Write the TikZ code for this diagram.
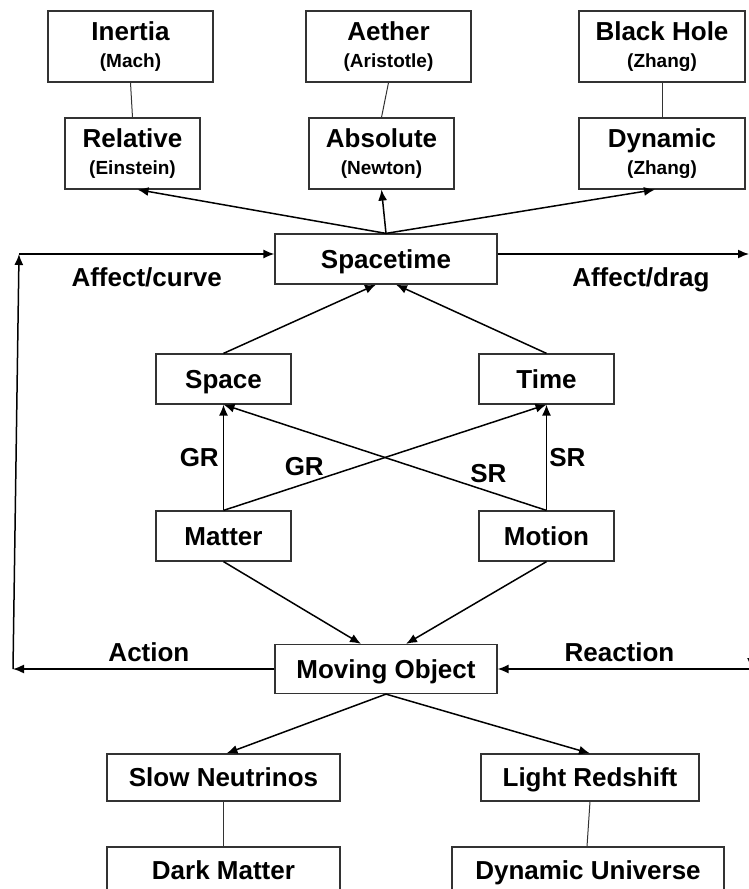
\documentclass[tikz,border=0pt]{standalone}
\usepackage{fontspec}
\setmainfont{Liberation Sans}
\usetikzlibrary{arrows.meta}
\newcommand{\who}[1]{{\fontsize{19}{27}\selectfont(#1)}}

\begin{document}
\begin{tikzpicture}[
  x=1pt, y=-1pt,
  boxbase/.style={rectangle, draw=black!80, line width=1.2pt, inner sep=0pt, align=center, font=\bfseries\fontsize{26}{27}\selectfont},
  block/.style={boxbase, minimum height=50pt, text height=21pt, text depth=2.5pt},
  tallblock/.style={boxbase, minimum height=71pt},
  lowblock/.style={block, minimum height=47pt},
  link/.style={-{Latex[length=11pt,width=9pt]}, line width=1.5pt},
  tie/.style={line width=1pt, draw=black!80},
  lbl/.style={font=\bfseries\fontsize{26}{27}\selectfont, inner sep=4pt},
  node distance=107pt
]
\useasboundingbox (0,0) rectangle (749,889);

\node[tallblock, minimum width=165pt] (inertia) at (130.5,46.5) {Inertia\\\who{Mach}};
\node[tallblock, minimum width=135pt, below of=inertia, xshift=2pt] (relative) {Relative\\\who{Einstein}};
\node[tallblock, minimum width=165pt] (aether) at (388.5,46.5) {Aether\\\who{Aristotle}};
\node[tallblock, minimum width=145pt, below of=aether, xshift=-7pt] (absolute) {Absolute\\\who{Newton}};
\node[tallblock, minimum width=166pt] (blackhole) at (662,46.5) {Black Hole\\\who{Zhang}};
\node[tallblock, minimum width=166pt, below of=blackhole] (dynamic) {Dynamic\\\who{Zhang}};

\node[block, minimum width=222pt] (spacetime) at (386,259) {Spacetime};
\node[block, minimum width=135pt] (space) at (223.5,379) {Space};
\node[block, minimum width=135pt] (time) at (546.5,379) {Time};
\node[block, minimum width=135pt, below of=space, node distance=157pt] (matter) {Matter};
\node[block, minimum width=135pt, below of=time, node distance=157pt] (motion) {Motion};
\node[block, minimum width=222pt, minimum height=49pt] (moving) at (386,669) {Moving Object};

\node[lowblock, minimum width=233pt] (slow) at (223.5,777.5) {Slow Neutrinos};
\node[lowblock, minimum width=218pt] (redshift) at (590,777.5) {Light Redshift};
\node[lowblock, minimum width=233pt, below of=slow, node distance=93pt] (dark) {Dark Matter};
\node[lowblock, minimum width=272pt, below of=redshift, node distance=93pt, xshift=-2pt] (universe) {Dynamic Universe};

\coordinate (actend) at (13,669);
\coordinate (curvestart) at (19,254);
\coordinate (dragend) at (749,254);
\coordinate (dragturn) at (751.5,254);
\coordinate (reactstart) at (751.5,669);

% top pairs
\draw[tie] (inertia.south) -- (relative.north);
\draw[tie] (aether.south) -- (absolute.north);
\draw[tie] (blackhole.south) -- (dynamic.north);
\draw[link] (spacetime.north) -- ([xshift=5pt]relative.south);
\draw[link] (spacetime.north) -- (absolute.south);
\draw[link] (spacetime.north) -- ([xshift=-7pt]dynamic.south);

% space and time
\draw[link] (space.north) -- ([xshift=-10pt]spacetime.south);
\draw[link] (time.north) -- ([xshift=10pt]spacetime.south);
\draw[link] (matter.north) -- node[lbl, left] {GR} (space.south);
\draw[link] (matter.north) -- node[lbl, pos=0.25, above, yshift=3pt] {GR} (time.south);
\draw[link] (motion.north) -- node[lbl, pos=0.18, above, yshift=4pt] {SR} (space.south);
\draw[link] (motion.north) -- node[lbl, right, inner sep=2pt] {SR} (time.south);
\draw[link] (matter.south) -- ([xshift=-25pt]moving.north);
\draw[link] (motion.south) -- ([xshift=20pt]moving.north);

% feedback loops
\draw[link] (moving.west) -- node[lbl, above, pos=0.48, yshift=3pt] {Action} (actend);
\draw[link] (actend) -- (curvestart);
\draw[link] (curvestart) -- node[lbl, below, pos=0.5, yshift=-9pt] {Affect/curve} ([yshift=5pt]spacetime.west);
\draw[link] ([yshift=5pt]spacetime.east) -- node[lbl, below, pos=0.57, yshift=-9pt] {Affect/drag} (dragend);
\draw[link] (dragturn) -- (reactstart);
\draw[link] (reactstart) -- node[lbl, above, pos=0.52, yshift=3pt] {Reaction} (moving.east);

% outcomes
\draw[link] (moving.south) -- ([xshift=3pt]slow.north);
\draw[link] (moving.south) -- (redshift.north);
\draw[tie] (slow.south) -- (dark.north);
\draw[tie] (redshift.south) -- ([xshift=-1pt]universe.north);
\end{tikzpicture}
\end{document}
